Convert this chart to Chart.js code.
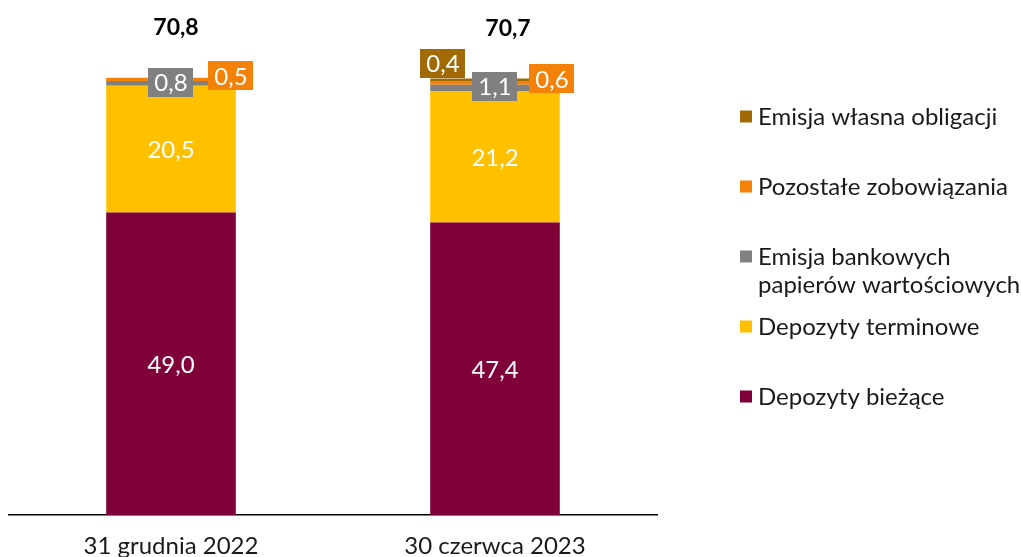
<!DOCTYPE html>
<html lang="pl">
<head>
<meta charset="utf-8">
<title>Struktura zobowiązań</title>
<script src="https://cdn.jsdelivr.net/npm/chart.js@4/dist/chart.umd.min.js"></script>
<style>
  html, body { margin: 0; padding: 0; background: #ffffff; }
  #wrap { width: 1021px; height: 557px; }
</style>
</head>
<body>
<div id="wrap"><canvas id="chart" width="1021" height="557"></canvas></div>
<script>
// Categories (reporting dates)
const categories = ['31 grudnia 2022', '30 czerwca 2023'];

// Series values, bottom of the stack first
const depozytyBiezace = [49.0, 47.4];
const depozytyTerminowe = [20.5, 21.2];
const emisjaBankowych = [0.8, 1.1];
const pozostaleZobowiazania = [0.5, 0.6];
const emisjaObligacji = [null, 0.4];

// Series names (legend text; \n marks a line break)
const seriesNames = [
  'Depozyty bieżące',
  'Depozyty terminowe',
  'Emisja bankowych\npapierów wartościowych',
  'Pozostałe zobowiązania',
  'Emisja własna obligacji'
];

const FONT = 'Lato, "Open Sans", sans-serif';
const fmt = v => v.toFixed(1).replace('.', ',');

// Value labels: big white text inside tall segments, boxed labels for thin ones
const segmentLabels = {
  id: 'segmentLabels',
  afterDatasetsDraw(chart) {
    const ctx = chart.ctx;
    ctx.save();
    ctx.font = '24px ' + FONT;
    ctx.textAlign = 'center';
    ctx.textBaseline = 'middle';
    chart.data.datasets.forEach((ds, i) => {
      const meta = chart.getDatasetMeta(i);
      const lbl = ds.valueLabel;
      meta.data.forEach((bar, j) => {
        const v = ds.data[j];
        if (v == null) return;
        const txt = fmt(v);
        if (lbl.mode === 'inside') {
          ctx.fillStyle = '#ffffff';
          ctx.fillText(txt, bar.x, (bar.y + bar.base) / 2 + 1);
        } else {
          const cx = bar.x + lbl.dx[j];
          const cy = bar.y + lbl.dy;
          const w = ctx.measureText(txt).width + 12;
          const h = 29;
          ctx.fillStyle = ds.backgroundColor;
          ctx.fillRect(Math.round(cx - w / 2), Math.round(cy - h / 2), Math.round(w), h);
          ctx.fillStyle = '#ffffff';
          ctx.fillText(txt, cx, cy + 1);
        }
      });
    });
    ctx.restore();
  }
};

// Stack totals above each bar
const totalLabels = {
  id: 'totalLabels',
  afterDatasetsDraw(chart, args, opts) {
    const ctx = chart.ctx;
    const yScale = chart.scales.y;
    const meta0 = chart.getDatasetMeta(0);
    ctx.save();
    ctx.font = 'bold 23px ' + FONT;
    ctx.fillStyle = '#000000';
    ctx.textAlign = 'center';
    ctx.textBaseline = 'middle';
    categories.forEach((c, j) => {
      const total = chart.data.datasets.reduce((s, ds) => s + (ds.data[j] || 0), 0);
      const x = meta0.data[j].x + opts.dx[j];
      const y = yScale.getPixelForValue(total) + opts.dy;
      ctx.fillText(fmt(total), x, y);
    });
    ctx.restore();
  }
};

// Legend on the right, top series first
const sideLegend = {
  id: 'sideLegend',
  afterDraw(chart, args, opts) {
    const ctx = chart.ctx;
    ctx.save();
    ctx.font = '24px ' + FONT;
    ctx.textAlign = 'left';
    ctx.textBaseline = 'alphabetic';
    const items = chart.data.datasets.slice().reverse();
    items.forEach((ds, k) => {
      const cy = opts.top + k * opts.step;
      ctx.fillStyle = ds.backgroundColor;
      ctx.fillRect(opts.x, cy - 6, 12, 12);
      ctx.fillStyle = '#1a1a1a';
      ds.label.split('\n').forEach((line, n) => {
        ctx.fillText(line, opts.x + 18, cy + 8.5 + n * 27.5);
      });
    });
    ctx.restore();
  }
};

const colors = ['#80003a', '#ffc000', '#808080', '#f58208', '#a16a04'];
const seriesData = [depozytyBiezace, depozytyTerminowe, emisjaBankowych, pozostaleZobowiazania, emisjaObligacji];
const labelModes = [
  { mode: 'inside' },
  { mode: 'inside' },
  { mode: 'box', dx: [0, 0], dy: 1.6 },
  { mode: 'box', dx: [60, 57], dy: -2 },
  { mode: 'box', dx: [-52, -52], dy: -15 }
];

const datasets = seriesData.map((d, i) => ({
  label: seriesNames[i],
  data: d,
  backgroundColor: colors[i],
  borderWidth: 0,
  categoryPercentage: 1.0,
  barPercentage: 0.4,
  valueLabel: labelModes[i]
}));

new Chart(document.getElementById('chart'), {
  type: 'bar',
  data: { labels: categories, datasets },
  options: {
    responsive: false,
    animation: false,
    devicePixelRatio: 1,
    layout: { padding: { left: 9, right: 364, top: 21, bottom: -21 } },
    scales: {
      x: {
        stacked: true,
        grid: { display: false, drawTicks: false },
        border: { display: true, color: '#000000', width: 1.5 },
        ticks: { color: '#1a1a1a', font: { family: FONT, size: 24 }, padding: 17 }
      },
      y: {
        stacked: true,
        display: false,
        min: 0,
        max: 80
      }
    },
    plugins: {
      legend: { display: false },
      tooltip: { enabled: false },
      totalLabels: { dx: [5, 13], dy: -50 },
      sideLegend: { x: 740, top: 116.5, step: 70 }
    }
  },
  plugins: [segmentLabels, totalLabels, sideLegend]
});
</script>
</body>
</html>
